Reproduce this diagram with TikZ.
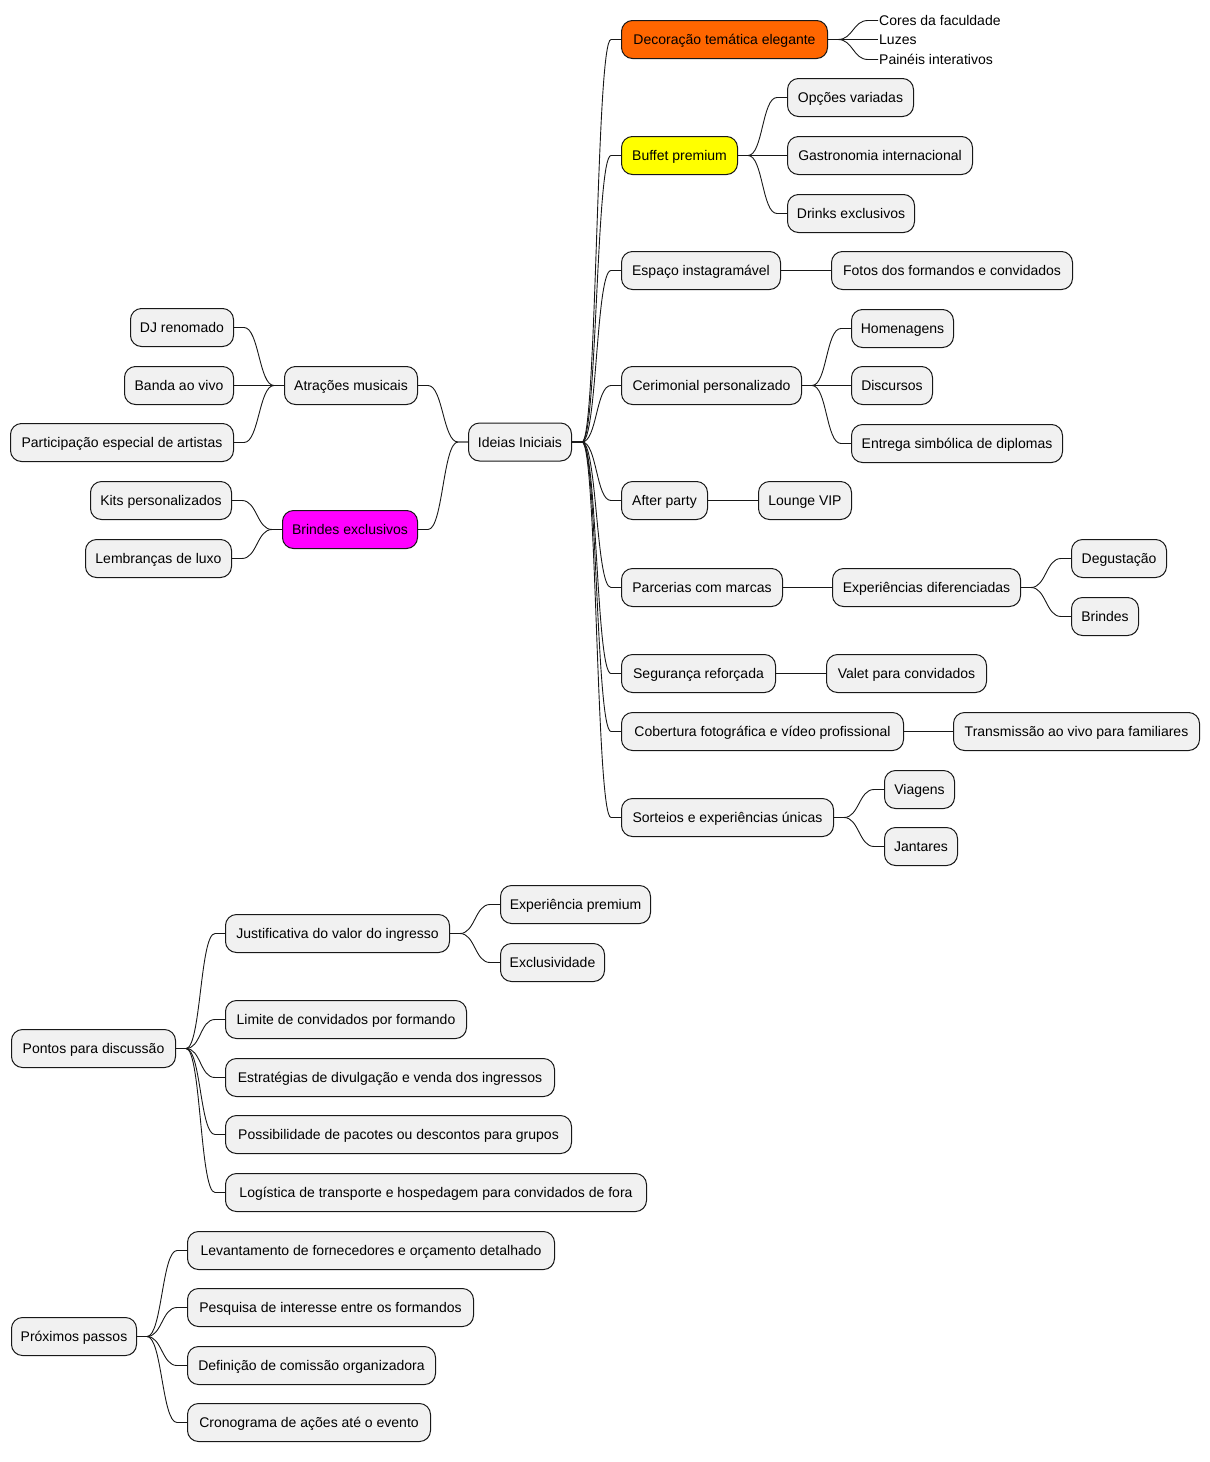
\documentclass[tikz,border=0pt]{standalone}
\usepackage{fontspec}
\setmainfont{Liberation Sans}
\usetikzlibrary{calc}
\definecolor{boxfill}{HTML}{F1F1F1}
\definecolor{boxline}{HTML}{181818}
\definecolor{orangefill}{HTML}{FF6600}
\definecolor{yellowfill}{HTML}{FFFF00}
\definecolor{magentafill}{HTML}{FF00FF}
\tikzset{
  mm/.style={draw=boxline, fill=boxfill, line width=1pt, rounded corners=11pt,
    minimum height=38pt, inner xsep=9pt, inner ysep=0pt, text height=12pt, text depth=2pt,
    font=\fontsize{14}{16}\selectfont, text=black},
  plain/.style={inner sep=1pt, font=\fontsize{14}{16}\selectfont, text=black, text height=12pt, text depth=2pt},
  conn/.style={draw=boxline, line width=0.9pt},
}
\newcommand\rconn[2]{\draw[conn] (#1.east) -- ++(10,0) .. controls +(15,0) and +(-15,0) .. ($(#2.west)+(-10,0)$) -- (#2.west);}
\newcommand\lconn[2]{\draw[conn] (#1.west) -- ++(-10,0) .. controls +(-15,0) and +(15,0) .. ($(#2.east)+(10,0)$) -- (#2.east);}
\begin{document}
\begin{tikzpicture}[x=1pt,y=-1pt]
\useasboundingbox (0,0) rectangle (1210,1462);
% root
\node[mm,anchor=west,minimum width=103] (root) at (468,442) {Ideias Iniciais};
% right level 1
\node[mm,anchor=west,minimum width=206,fill=orangefill] (deco) at (621,39.5) {Decoração temática elegante};
\node[mm,anchor=west,minimum width=116,fill=yellowfill] (buf) at (621,155.5) {Buffet premium};
\node[mm,anchor=west,minimum width=159] (esp) at (621,270.5) {Espaço instagramável};
\node[mm,anchor=west,minimum width=180] (cer) at (621,385.5) {Cerimonial personalizado};
\node[mm,anchor=west,minimum width=86] (aft) at (621,500.5) {After party};
\node[mm,anchor=west,minimum width=161] (par) at (621,587.5) {Parcerias com marcas};
\node[mm,anchor=west,minimum width=154] (seg) at (621,673.5) {Segurança reforçada};
\node[mm,anchor=west,minimum width=282] (cob) at (621,731.5) {Cobertura fotográfica e vídeo profissional};
\node[mm,anchor=west,minimum width=212] (sor) at (621,817.5) {Sorteios e experiências únicas};
% deco children
\node[plain,anchor=west] (cores) at (878,20.5) {Cores da faculdade};
\node[plain,anchor=west] (luz) at (878,39.5) {Luzes};
\node[plain,anchor=west] (pain) at (878,59.5) {Painéis interativos};
% buffet children
\node[mm,anchor=west,minimum width=126] (opc) at (787,97.5) {Opções variadas};
\node[mm,anchor=west,minimum width=185] (gas) at (787,155.5) {Gastronomia internacional};
\node[mm,anchor=west,minimum width=127] (dri) at (787,213.5) {Drinks exclusivos};
% espaco
\node[mm,anchor=west,minimum width=241] (fot) at (831,270.5) {Fotos dos formandos e convidados};
% cerimonial
\node[mm,anchor=west,minimum width=102] (hom) at (851,328.5) {Homenagens};
\node[mm,anchor=west,minimum width=81] (dis) at (851,385.5) {Discursos};
\node[mm,anchor=west,minimum width=211] (ent) at (851,443.5) {Entrega simbólica de diplomas};
% after
\node[mm,anchor=west,minimum width=93] (lou) at (758,500.5) {Lounge VIP};
% parcerias
\node[mm,anchor=west,minimum width=188] (exp) at (832,587.5) {Experiências diferenciadas};
\node[mm,anchor=west,minimum width=95] (deg) at (1071,558.5) {Degustação};
\node[mm,anchor=west,minimum width=67] (bri) at (1071,616.5) {Brindes};
% seguranca
\node[mm,anchor=west,minimum width=160] (val) at (826,673.5) {Valet para convidados};
% cobertura
\node[mm,anchor=west,minimum width=246] (tra) at (953,731.5) {Transmissão ao vivo para familiares};
% sorteios
\node[mm,anchor=west,minimum width=70] (via) at (884,789.5) {Viagens};
\node[mm,anchor=west,minimum width=73] (jan) at (884,846.5) {Jantares};
% left side
\node[mm,anchor=east,minimum width=133] (atr) at (418,385.5) {Atrações musicais};
\node[mm,anchor=east,minimum width=135,fill=magentafill] (bre) at (418,529.5) {Brindes exclusivos};
\node[mm,anchor=east,minimum width=103] (dj) at (234,327.5) {DJ renomado};
\node[mm,anchor=east,minimum width=109] (ban) at (234,385.5) {Banda ao vivo};
\node[mm,anchor=east,minimum width=223] (pes) at (234,442.5) {Participação especial de artistas};
\node[mm,anchor=east,minimum width=141] (kit) at (232,500.5) {Kits personalizados};
\node[mm,anchor=east,minimum width=146] (lem) at (232,558.5) {Lembranças de luxo};
% Pontos para discussao
\node[mm,anchor=west,minimum width=164] (pon) at (11,1048.5) {Pontos para discussão};
\node[mm,anchor=west,minimum width=224] (jus) at (225,933.5) {Justificativa do valor do ingresso};
\node[mm,anchor=west,minimum width=150] (epr) at (500,904.5) {Experiência premium};
\node[mm,anchor=west,minimum width=104] (exc) at (500,962.5) {Exclusividade};
\node[mm,anchor=west,minimum width=241] (lim) at (225,1019.5) {Limite de convidados por formando};
\node[mm,anchor=west,minimum width=329] (est) at (225,1077.5) {Estratégias de divulgação e venda dos ingressos};
\node[mm,anchor=west,minimum width=346] (pos) at (225,1134.5) {Possibilidade de pacotes ou descontos para grupos};
\node[mm,anchor=west,minimum width=421] (log) at (225,1192.5) {Logística de transporte e hospedagem para convidados de fora};
% Proximos passos
\node[mm,anchor=west,minimum width=125] (pro) at (11,1336.5) {Próximos passos};
\node[mm,anchor=west,minimum width=367] (lev) at (187,1250.5) {Levantamento de fornecedores e orçamento detalhado};
\node[mm,anchor=west,minimum width=286] (pqi) at (187,1307.5) {Pesquisa de interesse entre os formandos};
\node[mm,anchor=west,minimum width=248] (def) at (187,1365.5) {Definição de comissão organizadora};
\node[mm,anchor=west,minimum width=243] (cro) at (187,1422.5) {Cronograma de ações até o evento};
% connectors right
\foreach \c in {deco,buf,esp,cer,aft,par,seg,cob,sor} {\rconn{root}{\c}}
\foreach \c in {cores,luz,pain} {\rconn{deco}{\c}}
\foreach \c in {opc,gas,dri} {\rconn{buf}{\c}}
\rconn{esp}{fot}
\foreach \c in {hom,dis,ent} {\rconn{cer}{\c}}
\rconn{aft}{lou}
\rconn{par}{exp}
\foreach \c in {deg,bri} {\rconn{exp}{\c}}
\rconn{seg}{val}
\rconn{cob}{tra}
\foreach \c in {via,jan} {\rconn{sor}{\c}}
% connectors left
\foreach \c in {atr,bre} {\lconn{root}{\c}}
\foreach \c in {dj,ban,pes} {\lconn{atr}{\c}}
\foreach \c in {kit,lem} {\lconn{bre}{\c}}
% bottom trees
\foreach \c in {jus,lim,est,pos,log} {\rconn{pon}{\c}}
\foreach \c in {epr,exc} {\rconn{jus}{\c}}
\foreach \c in {lev,pqi,def,cro} {\rconn{pro}{\c}}
\end{tikzpicture}
\end{document}
